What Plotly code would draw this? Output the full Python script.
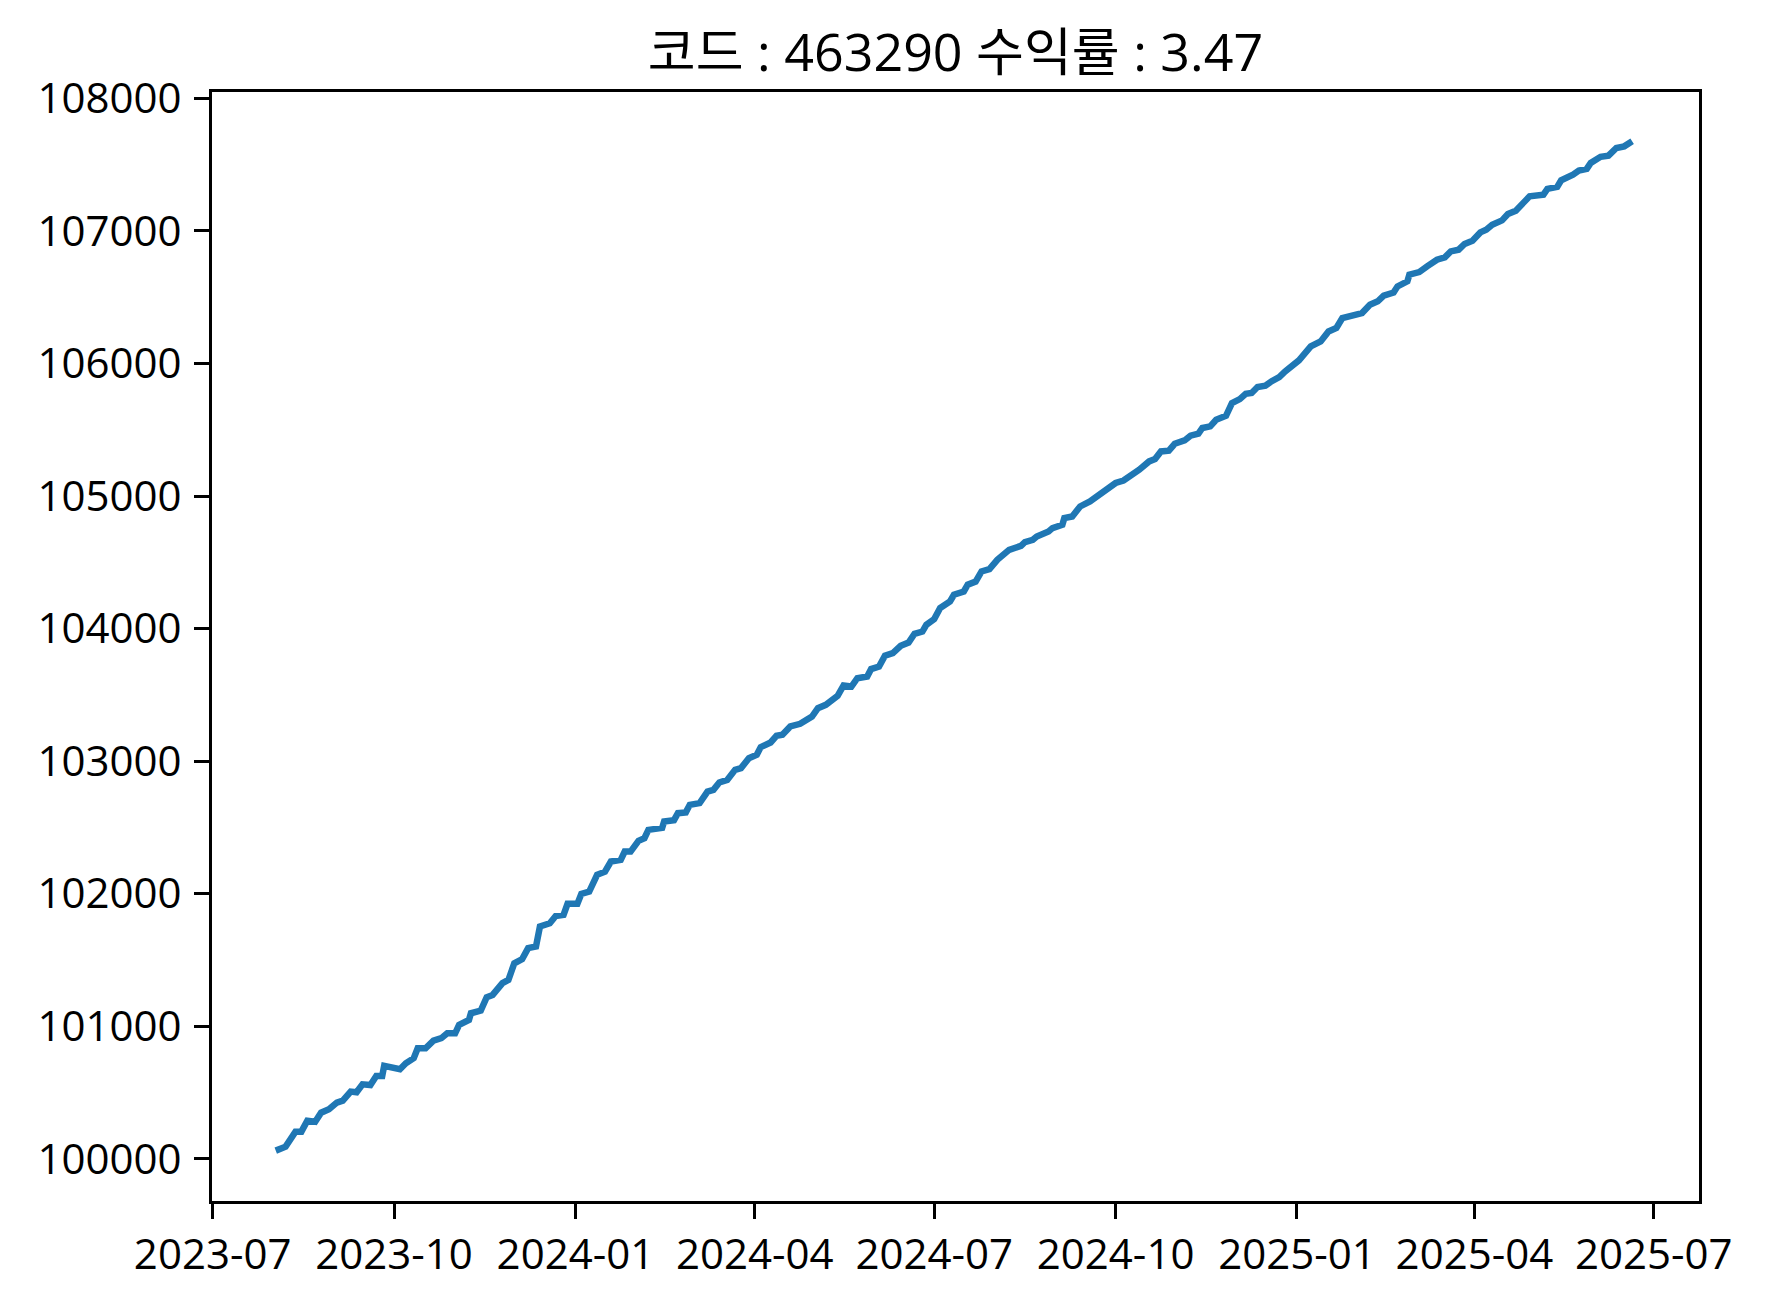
import plotly.graph_objects as go

dates = [
    "2023-08-02", "2023-08-07", "2023-08-12", "2023-08-15", "2023-08-18", "2023-08-22",
    "2023-08-25", "2023-08-29", "2023-09-02", "2023-09-05", "2023-09-09", "2023-09-12",
    "2023-09-15", "2023-09-19", "2023-09-22", "2023-09-25", "2023-09-26", "2023-10-04",
    "2023-10-07", "2023-10-11", "2023-10-13", "2023-10-17", "2023-10-21", "2023-10-25",
    "2023-10-28", "2023-11-01", "2023-11-03", "2023-11-08", "2023-11-09", "2023-11-14",
    "2023-11-17", "2023-11-20", "2023-11-25", "2023-11-28", "2023-12-01", "2023-12-05",
    "2023-12-08", "2023-12-12", "2023-12-14", "2023-12-19", "2023-12-22", "2023-12-26",
    "2023-12-28", "2024-01-02", "2024-01-04", "2024-01-08", "2024-01-12", "2024-01-16",
    "2024-01-19", "2024-01-24", "2024-01-26", "2024-01-29", "2024-02-02", "2024-02-05",
    "2024-02-07", "2024-02-14", "2024-02-15", "2024-02-20", "2024-02-22", "2024-02-26",
    "2024-02-28", "2024-03-04", "2024-03-08", "2024-03-11", "2024-03-14", "2024-03-18",
    "2024-03-22", "2024-03-25", "2024-03-29", "2024-04-02", "2024-04-04", "2024-04-09",
    "2024-04-12", "2024-04-15", "2024-04-19", "2024-04-24", "2024-04-30", "2024-05-03",
    "2024-05-07", "2024-05-10", "2024-05-13", "2024-05-16", "2024-05-20", "2024-05-23",
    "2024-05-28", "2024-05-30", "2024-06-03", "2024-06-06", "2024-06-10", "2024-06-14",
    "2024-06-18", "2024-06-21", "2024-06-25", "2024-06-27", "2024-07-01", "2024-07-04",
    "2024-07-09", "2024-07-11", "2024-07-16", "2024-07-18", "2024-07-22", "2024-07-25",
    "2024-07-29", "2024-08-02", "2024-08-07", "2024-08-08", "2024-08-14", "2024-08-16",
    "2024-08-20", "2024-08-22", "2024-08-28", "2024-08-30", "2024-09-04", "2024-09-05",
    "2024-09-09", "2024-09-13", "2024-09-18",
    "2024-09-24", "2024-09-26", "2024-10-01", "2024-10-05", "2024-10-10", "2024-10-13",
    "2024-10-18", "2024-10-21", "2024-10-24", "2024-10-28", "2024-10-31", "2024-11-05",
    "2024-11-08", "2024-11-12", "2024-11-14", "2024-11-18", "2024-11-21", "2024-11-26",
    "2024-11-29", "2024-12-03", "2024-12-06", "2024-12-09", "2024-12-12", "2024-12-16",
    "2024-12-19", "2024-12-23", "2024-12-26",
    "2025-01-02", "2025-01-08", "2025-01-13", "2025-01-17", "2025-01-21", "2025-01-24",
    "2025-02-03", "2025-02-07", "2025-02-11", "2025-02-14", "2025-02-19", "2025-02-21",
    "2025-02-26", "2025-02-27",
    "2025-03-04", "2025-03-08", "2025-03-13", "2025-03-17", "2025-03-20", "2025-03-24",
    "2025-03-27", "2025-03-31", "2025-04-04", "2025-04-07", "2025-04-10", "2025-04-15",
    "2025-04-18", "2025-04-22", "2025-04-26", "2025-04-29",
    "2025-05-06", "2025-05-08", "2025-05-13", "2025-05-15",
    "2025-05-21", "2025-05-24", "2025-05-28", "2025-05-30", "2025-06-04", "2025-06-08",
    "2025-06-12", "2025-06-16", "2025-06-20",
]

values = [
    100063, 100093, 100206, 100206, 100289, 100281,
    100349, 100375, 100425, 100440, 100508, 100503,
    100563, 100558, 100626, 100626, 100702, 100677,
    100722, 100760, 100835, 100835, 100893, 100911,
    100948, 100948, 101011, 101049, 101099, 101119,
    101220, 101237, 101326, 101350, 101476, 101507,
    101590, 101602, 101753, 101778, 101833, 101841,
    101924, 101924, 101999, 102017, 102143, 102167,
    102243, 102256, 102318, 102318, 102399, 102419,
    102482, 102497, 102545, 102555, 102608, 102614,
    102671, 102684, 102771, 102784, 102839, 102859,
    102935, 102948, 103023, 103048, 103106, 103141,
    103191, 103199, 103262, 103282, 103337, 103400,
    103425, 103463, 103493, 103571, 103563, 103626,
    103639, 103695, 103714, 103795, 103815, 103870,
    103895, 103961, 103978, 104029, 104072, 104155,
    104205, 104255, 104280, 104331, 104355, 104431,
    104449, 104519, 104582, 104594, 104624, 104652,
    104670, 104695, 104733, 104758, 104783, 104834,
    104846, 104921, 104959,
    105022, 105052, 105098, 105117, 105160, 105198,
    105261, 105279, 105336, 105342, 105394, 105419,
    105455, 105470, 105513, 105525, 105575, 105605,
    105701, 105731, 105771, 105777, 105822, 105832,
    105864, 105897, 105940,
    106023, 106128, 106166, 106241, 106267, 106342,
    106380, 106443, 106468, 106511, 106534, 106581,
    106619, 106669,
    106689, 106732, 106782, 106800, 106845, 106858,
    106901, 106926, 106988, 107009, 107046, 107079,
    107127, 107152, 107205, 107260,
    107273, 107316, 107331, 107381,
    107424, 107454, 107467, 107512, 107558, 107567,
    107625, 107637, 107675,
]

title_text = "코드 : 463290 수익률 : 3.47"
y_ticks = [100000, 101000, 102000, 103000, 104000, 105000, 106000, 107000, 108000]
x_ticks = ["2023-07-01", "2023-10-01", "2024-01-01", "2024-04-01", "2024-07-01",
           "2024-10-01", "2025-01-01", "2025-04-01", "2025-07-01"]
x_labels = ["2023-07", "2023-10", "2024-01", "2024-04", "2024-07",
            "2024-10", "2025-01", "2025-04", "2025-07"]

FONT = "Open Sans, Noto Sans CJK KR, sans-serif"

fig = go.Figure()
fig.add_trace(go.Scatter(
    x=dates, y=values, mode="lines",
    line=dict(color="#1f77b4", width=6.5),
    showlegend=False,
))

# page body has an 8px margin; compensate so the plot area lands where the reference has it
fig.update_layout(
    width=1757, height=1284,
    margin=dict(l=204, r=66, t=84, b=91),
    paper_bgcolor="white", plot_bgcolor="white",
    font=dict(family=FONT, size=42, color="black"),
    title=dict(
        text=title_text, x=0.5, xref="paper", xanchor="center",
        y=1, yref="paper", yanchor="bottom", pad=dict(b=21),
        font=dict(family=FONT, size=52, color="black"),
    ),
)

fig.update_xaxes(
    type="date",
    range=["2023-06-30 16:00", "2025-07-23 22:00"],
    tickmode="array", tickvals=x_ticks, ticktext=x_labels,
    ticks="outside", ticklen=15, tickwidth=3, tickcolor="black",
    showline=True, linewidth=3, linecolor="black", mirror=True,
    showgrid=False, zeroline=False,
    tickfont=dict(family=FONT, size=42, color="black"),
)
fig.update_yaxes(
    range=[99683, 108047],
    tickmode="array", tickvals=y_ticks, ticktext=[str(v) for v in y_ticks],
    ticks="outside", ticklen=15, tickwidth=3, tickcolor="black",
    showline=True, linewidth=3, linecolor="black", mirror=True,
    showgrid=False, zeroline=False, ticklabelstandoff=4,
    tickfont=dict(family=FONT, size=42, color="black"),
)

fig.write_html("out.html")
